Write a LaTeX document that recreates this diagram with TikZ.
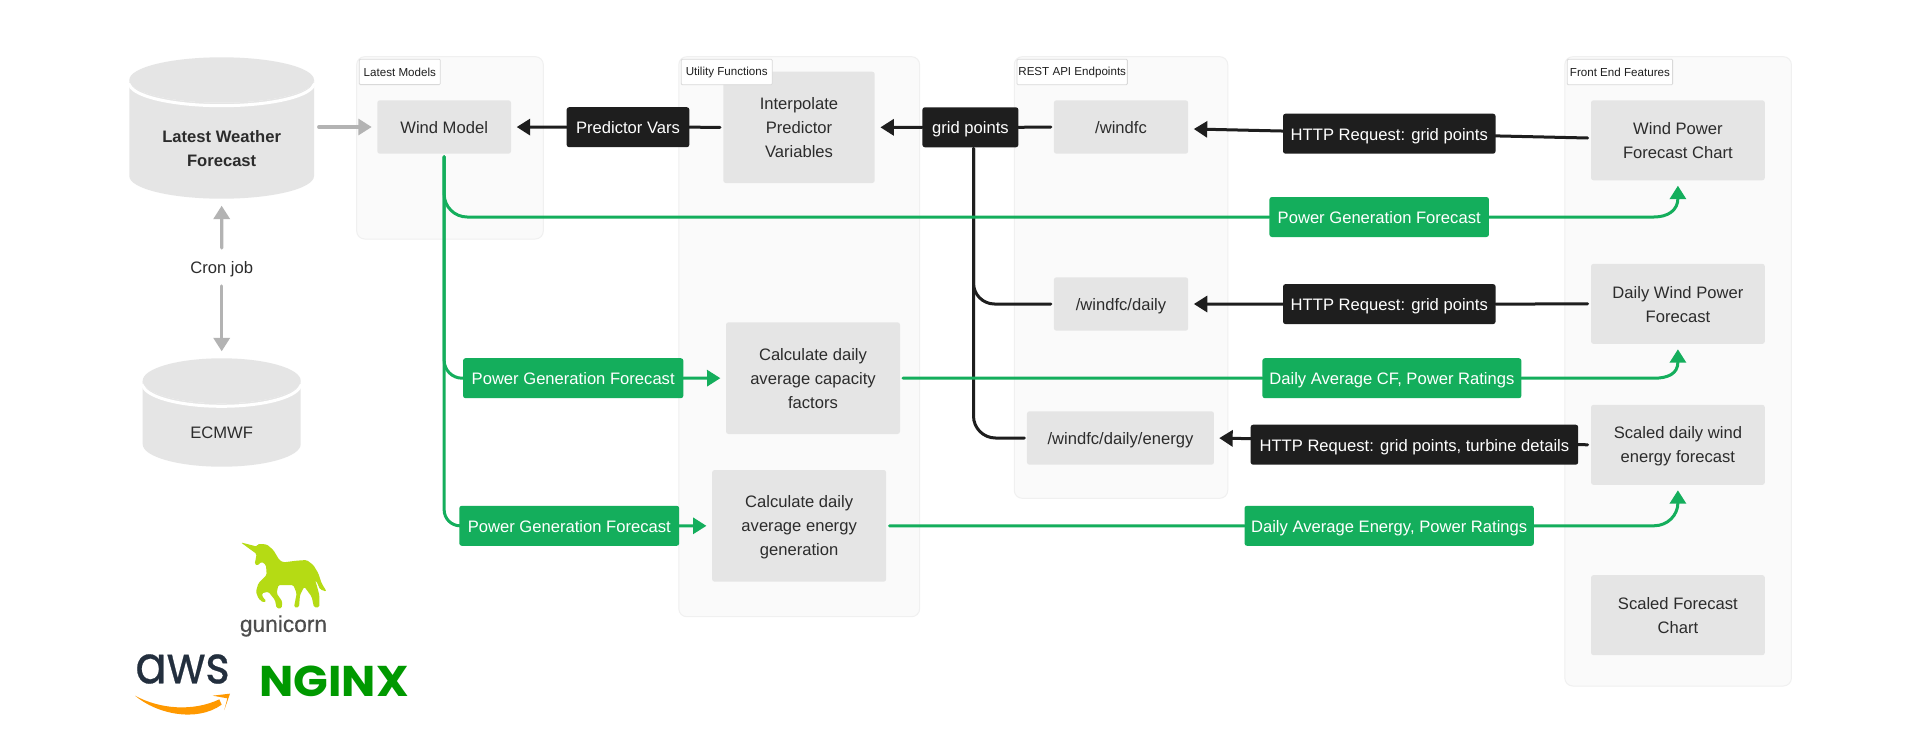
\documentclass[tikz,border=0pt]{standalone}
\usepackage{fontspec}
\setmainfont{Liberation Sans}
\newfontfamily\popp[FakeBold=0.5]{Poppins}
\newfontfamily\ngxfont{Poppins}
\newfontfamily\gunif[FakeBold=0.6]{Liberation Sans}
\usetikzlibrary{arrows.meta,calc}
\definecolor{boxgray}{HTML}{E5E5E5}
\definecolor{inkblack}{HTML}{1E1E1E}
\definecolor{txtdark}{HTML}{2C2C2C}
\definecolor{gfill}{HTML}{FAFAFA}
\definecolor{gline}{HTML}{F0F0F0}
\definecolor{tagline}{HTML}{D9D9D9}
\definecolor{wiregray}{HTML}{B3B3B3}
\definecolor{figgreen}{HTML}{14AE5C}
\definecolor{unigreen}{HTML}{B5DB14}
\definecolor{awsink}{HTML}{232F3E}
\definecolor{awsorange}{HTML}{FF9900}
\definecolor{ngxgreen}{HTML}{009900}
\definecolor{gunitxt}{HTML}{4D4D4D}
\pgfdeclarelayer{grp}
\pgfdeclarelayer{wires}
\pgfsetlayers{grp,wires,main}
\newcommand{\textstrut}{\rule[-2.8pt]{0pt}{19pt}}
\newcommand{\dn}[1]{\raisebox{-1.6pt}[\height][\depth]{#1}}
\tikzset{
  base/.style={inner sep=0pt,outer sep=0pt,align=center,font=\fontsize{16.6}{24}\selectfont},
  lined/.style={base,execute at begin node=\textstrut,execute at end node=\textstrut},
  grpbox/.style n args={4}{draw=gline,line width=1pt,fill=gfill,rounded corners=8pt,inner sep=0pt,outer sep=0pt,minimum width=#1pt,minimum height=#2pt,at={(#3,#4)}},
  tagbox/.style={base,draw=tagline,line width=.8pt,fill=white,text=inkblack,font=\fontsize{11.6}{13}\selectfont,minimum height=25.4pt,rounded corners=1pt},
  procbox/.style 2 args={lined,fill=boxgray,text=txtdark,rounded corners=2.5pt,minimum width=#1pt,minimum height=#2pt},
  blacktag/.style={lined,fill=inkblack,text=white,rounded corners=2.5pt,minimum width=#1pt,minimum height=40pt},
  greentag/.style={lined,fill=figgreen,text=white,rounded corners=2.5pt,minimum width=#1pt,minimum height=40pt},
  freetext/.style={lined,text=txtdark},
  bwire/.style={draw=inkblack,line width=3pt,line cap=round},
  gwire/.style={draw=figgreen,line width=3pt,line cap=round},
  ywire/.style={draw=wiregray,line width=3.2pt,line cap=round},
  btip/.style={-{Triangle[length=13.4pt,width=16pt]}},
}
\begin{document}
\begin{tikzpicture}[x=1pt,y=-1pt]
\useasboundingbox (0,0) rectangle (1920,736);

% groups
\begin{pgfonlayer}{grp}
\fill[white] (0,0) rectangle (1920,736);
\node[grpbox={186.6}{182.3}{450}{147.85}] (gmodels) {};
\node[grpbox={240.8}{560}{799.2}{336.7}] (gutil) {};
\node[grpbox={213.5}{441.6}{1121}{277.5}] (grest) {};
\node[grpbox={226.6}{629.3}{1678.1}{371.35}] (gfront) {};
\end{pgfonlayer}

% cylinders
\fill[boxgray] (129.3,80) -- (129.3,176) arc[start angle=180,end angle=360,x radius=92.35,y radius=-22.7] -- (314,80) arc[start angle=0,end angle=180,x radius=92.35,y radius=22.7] -- cycle;
\draw[white,line width=3pt] (129.3,83) arc[start angle=180,end angle=360,x radius=92.35,y radius=-22.7];
\fill[boxgray] (221.65,80) ellipse[x radius=92.35,y radius=22.7];
\fill[boxgray] (142.7,380.8) -- (142.7,444.2) arc[start angle=180,end angle=360,x radius=79,y radius=-22.5] -- (300.7,380.8) arc[start angle=0,end angle=180,x radius=79,y radius=22.5] -- cycle;
\draw[white,line width=3pt] (142.7,383.8) arc[start angle=180,end angle=360,x radius=79,y radius=-22.5];
\fill[boxgray] (221.7,380.8) ellipse[x radius=79,y radius=22.5];

\node[base,text=txtdark,minimum width=184.7pt,minimum height=141pt] (weather) at (221.65,128.2) {};
\node[lined,text=txtdark,font=\fontsize{16.6}{24}\selectfont\bfseries] (weathertxt) at (221.65,150) {Latest Weather\\Forecast};
\node[base,text=txtdark,minimum width=158pt,minimum height=108.4pt] (ecmwf) at (221.7,412.5) {};
\node[freetext] (ecmwftxt) at (221.7,432) {ECMWF};
\node[freetext,minimum width=70pt,minimum height=38pt] (cron) at (221.7,267) {Cron job};

% process boxes
\node[procbox={133.7}{53.4}] (wind) at (444.15,127) {Wind Model};
\node[procbox={151.4}{111.3}] (interp) at (799,127.35) {\dn{Interpolate}\\\dn{Predictor}\\\dn{Variables}};
\node[procbox={174}{111.7}] (capfac) at (813,378.15) {\dn{Calculate daily}\\\dn{average capacity}\\\dn{factors}};
\node[procbox={174}{111.7}] (energy) at (799.15,525.85) {\dn{Calculate daily}\\\dn{average energy}\\\dn{generation}};
\node[procbox={134.3}{53.4}] (windfc) at (1121,127) {/windfc};
\node[procbox={134.3}{53.4}] (daily) at (1121,304) {/windfc/daily};
\node[procbox={187}{53.4}] (denergy) at (1120.45,438) {/windfc/daily/energy};
\node[procbox={173.8}{80}] (chart) at (1677.9,140.3) {\dn{Wind Power}\\\dn{Forecast Chart}};
\node[procbox={173.8}{80}] (dwp) at (1677.9,303.85) {\dn{Daily Wind Power}\\\dn{Forecast}};
\node[procbox={173.8}{80}] (sdw) at (1677.9,444.85) {\dn{Scaled daily wind}\\\dn{energy forecast}};
\node[procbox={173.8}{80}] (sfc) at (1677.9,615.15) {\dn{Scaled Forecast}\\\dn{Chart}};

% group tags
\node[tagbox,minimum width=81pt] (tmodels) at (399.8,71.9) {Latest Models};
\node[tagbox,minimum width=91pt] (tutil) at (726.7,72) {Utility Functions};
\node[tagbox,minimum width=110.3pt] (trest) at (1072.2,72) {REST API Endpoints};
\node[tagbox,minimum width=105.4pt] (tfront) at (1619.9,72) {Front End Features};

% edge labels
\node[blacktag=122.7] (predv) at (628,127.2) {Predictor Vars};
\node[blacktag=96] (grid) at (970.4,127.3) {grid points};
\node[blacktag=212.6] (http1) at (1389.3,133.7) {HTTP Request: grid points};
\node[blacktag=212.6] (http2) at (1389.3,304.1) {HTTP Request: grid points};
\node[blacktag=327.6] (http3) at (1414.4,444.7) {HTTP Request: grid points, turbine details};
\node[greentag=219.5] (pgf) at (1379.2,217) {Power Generation Forecast};
\node[greentag=259] (dcf) at (1391.9,378.2) {Daily Average CF, Power Ratings};
\node[greentag=220.3] (pg2) at (573.2,378.2) {Power Generation Forecast};
\node[greentag=219.9] (pg3) at (569.25,525.8) {Power Generation Forecast};
\node[greentag=289.3] (daen) at (1389.15,525.8) {Daily Average Energy, Power Ratings};

% connectors
\begin{pgfonlayer}{wires}
\draw[ywire,btip,shorten <=4.7pt,shorten >=5.6pt] (weather.east |- wind.west) -- (wind.west);
\draw[ywire,btip,shorten >=7pt] (cron.north) -- (weather.south);
\draw[ywire,btip,shorten >=7pt] (cron.south) -- (ecmwf.north);

\draw[bwire,btip,shorten >=5.7pt] (predv.west) -- (wind.east);
\draw[bwire,shorten <=3.3pt] (interp.west) -- (predv.east);
\draw[bwire,btip,shorten >=5.7pt] (grid.west) -- (interp.east);
\draw[bwire,shorten <=3pt] (windfc.west) -- (grid.east);
\draw[bwire,rounded corners=21pt,shorten >=3pt,shorten <=1pt] ([xshift=3.1pt]grid.south) |- (daily.west);
\draw[bwire,rounded corners=22pt,shorten >=2.5pt,shorten <=1pt] ([xshift=3.1pt]grid.south) |- (denergy.west);
\draw[bwire,btip] ([xshift=-3.4pt,yshift=2.3pt]chart.west) -- ([xshift=5.7pt,yshift=-2pt]windfc.east);
\draw[bwire,shorten <=3.4pt] (dwp.west) -- (http2.east);
\draw[bwire,btip,shorten >=5.7pt] (http2.west) -- (daily.east);
\draw[bwire,btip,shorten <=3.4pt,shorten >=5.3pt] (sdw.west) -- (denergy.east);

\draw[gwire,rounded corners=23pt,shorten <=3pt] (wind.south) |- (pgf.west);
\draw[gwire,rounded corners=18pt,shorten <=3pt] (wind.south) |- (pg2.west);
\draw[gwire,rounded corners=16pt,shorten <=3pt] (wind.south) |- (pg3.west);
\draw[gwire,btip,shorten >=5.6pt] (pg2.east) -- (capfac.west);
\draw[gwire,btip,shorten >=5.7pt] (pg3.east) -- (energy.west);
\draw[gwire,shorten <=2.9pt] (capfac.east) -- (dcf.west);
\draw[gwire,shorten <=3.3pt] (energy.east) -- (daen.west);
\draw[gwire,btip] (pgf.east) -- ($(chart.south |- pgf.east)+(-24,0)$) .. controls ($(chart.south |- pgf.east)+(-10,0)$) and ($(chart.south)+(0,30)$) .. ($(chart.south)+(0,5.4)$);
\draw[gwire,btip] (dcf.east) -- ($(dwp.south |- dcf.east)+(-24,0)$) .. controls ($(dwp.south |- dcf.east)+(-10,0)$) and ($(dwp.south)+(0,30)$) .. ($(dwp.south)+(0,5.4)$);
\draw[gwire,btip] (daen.east) -- ($(sdw.south |- daen.east)+(-24,0)$) .. controls ($(sdw.south |- daen.east)+(-10,0)$) and ($(sdw.south)+(0,30)$) .. ($(sdw.south)+(0,5.4)$);
\end{pgfonlayer}

% logos
\begin{scope}[shift={(120,530)},x=.33333pt,y=-.33333pt]
\fill[unigreen,rounded corners=1.5pt] (362,37) -- (412,50) -- (412,42) -- (440,43) -- (460,60) -- (478,90) -- (490,97) -- (530,92) -- (560,90) -- (580,105) -- (595,130) -- (605,160) -- (620,185) -- (600,178) -- (590,155) -- (585,150) -- (590,165) -- (598,195) -- (598,232) -- (582,232) -- (575,200) -- (553,170) -- (540,195) -- (537,232) -- (522,232) -- (530,190) -- (520,165) -- (475,165) -- (470,190) -- (487,215) -- (485,235) -- (470,235) -- (465,210) -- (445,185) -- (425,190) -- (430,205) -- (440,212) -- (430,218) -- (415,205) -- (408,185) -- (415,160) -- (440,135) -- (438,105) -- (425,95) -- (412,107) -- (404,103) -- (410,72) -- cycle;
\fill[awsorange] (45,497) .. controls (110,552) and (230,578) .. (305,524) -- (298,508) .. controls (220,545) and (120,538) .. (45,497) -- cycle;
\fill[awsorange] (278,497) -- (330,491) -- (313,540) -- (322,505) -- cycle;
\end{scope}
\node[inner sep=0pt,text=gunitxt,font=\fontsize{22.7}{26}\gunif] (guni) at (283.5,626) {gunicorn};
\node[inner sep=0pt,text=awsink,xscale=.9,font=\fontsize{52}{56}\popp] (aws) at (182.5,669) {aws};
\node[inner sep=0pt,text=ngxgreen,xscale=1.06,font=\fontsize{43}{46}\ngxfont\bfseries] (ngx) at (334,681) {NGINX};
\end{tikzpicture}
\end{document}
